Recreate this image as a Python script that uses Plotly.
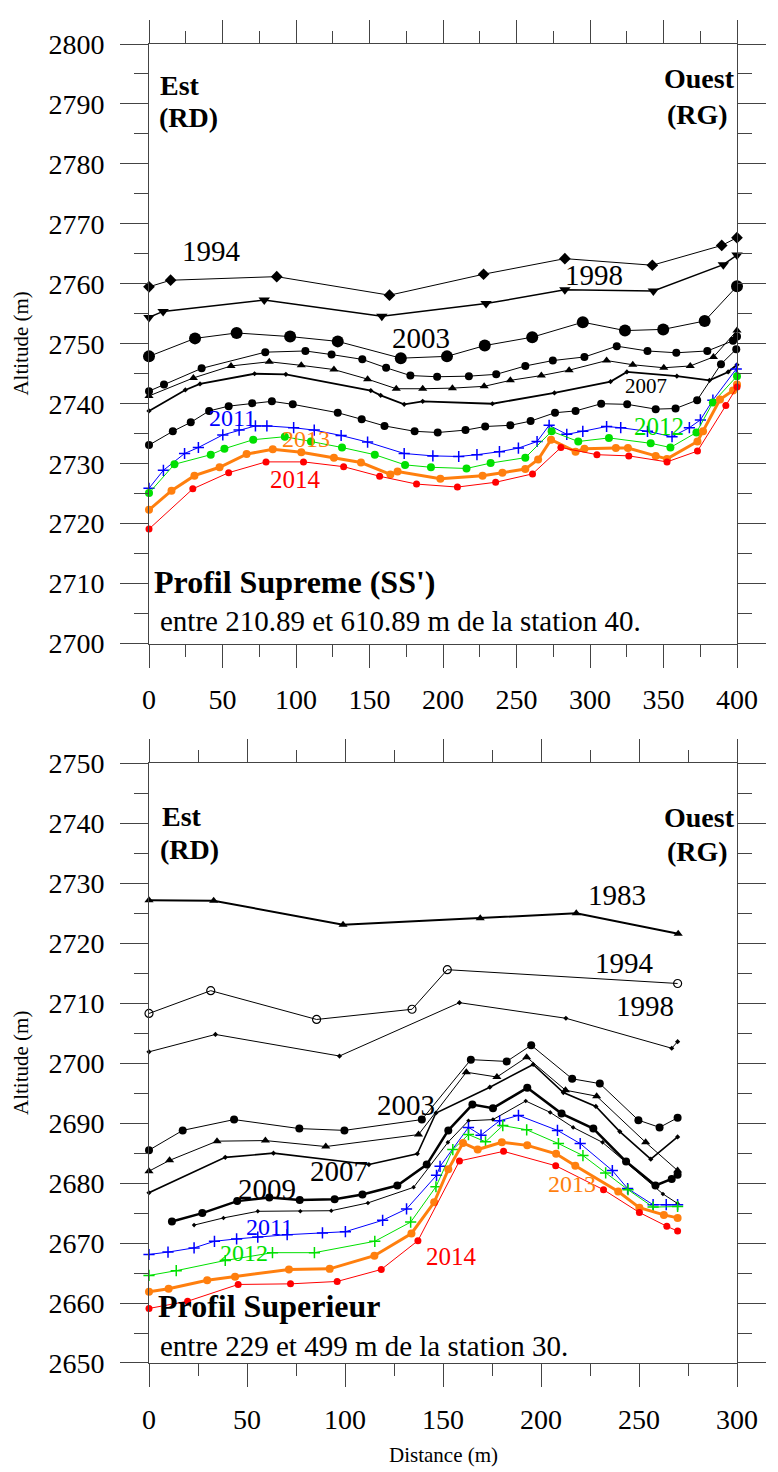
import plotly.graph_objects as go

# ---------------- Top panel : Profil Supreme (SS') ----------------
t1994_d = [0, 14.7, 86.9, 163.6, 227.6, 282.9, 342.4, 389.6, 400]
t1994_z = [2759.5, 2760.6, 2761.2, 2758.1, 2761.6, 2764.2, 2763.1, 2766.4, 2767.7]

t1998_d = [0, 9.6, 78.4, 158.4, 229.3, 282.9, 343.1, 390.7, 400]
t1998_z = [2754.4, 2755.4, 2757.3, 2754.6, 2756.7, 2759.0, 2758.8, 2763.2, 2764.8]

t2003_d = [0, 31.3, 59.6, 96, 128.4, 171.3, 202.7, 228.4, 260.7, 295.1, 323.8, 349.8, 378, 400]
t2003_z = [2747.9, 2750.9, 2751.8, 2751.2, 2750.4, 2747.6, 2747.9, 2749.7, 2751.1, 2753.6, 2752.2, 2752.4, 2753.8, 2759.6]

ta_d = [0, 10.2, 35.8, 79.1, 106.4, 124.2, 145.1, 161.3, 177.8, 196, 217.6, 236.2, 256, 274.7, 296.2, 318.2, 339.1, 358.7, 379.8, 397.3, 400]
ta_z = [2742.1, 2743.2, 2745.9, 2748.6, 2748.8, 2748.2, 2747.4, 2746.0, 2744.7, 2744.5, 2744.6, 2744.9, 2746.3, 2747.2, 2747.8, 2749.6, 2748.8, 2748.5, 2748.8, 2750.5, 2751.2]

tb_d = [0, 30.2, 55.8, 81.8, 103.6, 125.8, 148.7, 168.2, 186.2, 206.4, 228, 245.8, 266.9, 285.8, 311.3, 329.1, 350.2, 368.2, 384, 400]
tb_z = [2741.3, 2744.3, 2746.3, 2747.0, 2746.4, 2745.7, 2744.1, 2742.5, 2742.5, 2742.6, 2742.9, 2743.9, 2744.7, 2745.6, 2747.2, 2746.5, 2746.0, 2746.3, 2747.8, 2752.2]

t2007_d = [0, 24.7, 34.7, 71.8, 93.1, 150.9, 157.6, 173.6, 186.2, 233.6, 275.8, 314, 325.1, 359.1, 381.3, 394, 400]
t2007_z = [2738.8, 2742.3, 2743.3, 2745.0, 2744.9, 2742.2, 2741.4, 2739.9, 2740.4, 2740.0, 2741.8, 2743.7, 2745.3, 2744.6, 2743.9, 2745.3, 2746.5]

tc_d = [0, 16.2, 28.4, 40.9, 54.2, 70.2, 83.6, 97.8, 128.4, 144.7, 160.2, 180.7, 196.4, 215.3, 228.7, 245.8, 259.6, 276.2, 290.2, 307.6, 325.3, 344.7, 358.2, 372.9, 389.1, 399.5]
tc_z = [2733.1, 2735.4, 2736.9, 2738.8, 2739.6, 2740.1, 2740.4, 2739.9, 2738.5, 2737.4, 2736.3, 2735.4, 2735.2, 2735.6, 2736.2, 2736.4, 2737.1, 2738.5, 2738.8, 2740.0, 2739.9, 2739.1, 2739.2, 2740.6, 2746.6, 2749.1]

t2011_d = [0, 9.8, 24.2, 33.6, 50.2, 61.3, 72.4, 80.2, 98.4, 112.4, 130.7, 148.7, 173.6, 193.1, 210.7, 223.1, 238.4, 251.3, 264, 272.2, 284.2, 295.1, 311.3, 320.9, 339.1, 355.8, 367.6, 375.1, 383.6, 399.5]
t2011_z = [2725.9, 2728.9, 2731.7, 2732.7, 2734.8, 2735.6, 2736.3, 2736.3, 2736.0, 2735.6, 2734.7, 2733.6, 2731.7, 2731.3, 2731.2, 2731.5, 2732.0, 2732.6, 2733.7, 2736.4, 2734.9, 2735.4, 2736.2, 2736.0, 2735.4, 2734.5, 2736.0, 2737.3, 2740.6, 2745.8]

t2012_d = [0, 17.3, 42, 51.3, 70.9, 92.4, 110.2, 131.3, 153.6, 174.2, 191.8, 216, 232.4, 256, 273.9, 292, 312.9, 341.3, 354.7, 372.4, 383.6, 400]
t2012_z = [2725.1, 2729.9, 2731.5, 2732.5, 2734.0, 2734.5, 2733.7, 2732.7, 2731.5, 2729.8, 2729.4, 2729.2, 2730.1, 2731.0, 2735.4, 2733.7, 2734.3, 2733.4, 2732.7, 2735.2, 2740.2, 2744.6]

t2013_d = [0, 15.3, 30.9, 48, 66.4, 84.2, 103.6, 125.8, 144.2, 164.2, 169.1, 198.2, 226.9, 240.4, 256, 264.7, 273.5, 290.2, 296.2, 317.6, 325.8, 344.7, 352.4, 373.1, 376.9, 388.4, 397.3, 400]
t2013_z = [2722.3, 2725.5, 2728.0, 2729.4, 2731.6, 2732.4, 2731.9, 2731.0, 2730.2, 2728.2, 2728.7, 2727.5, 2728.0, 2728.5, 2729.1, 2730.7, 2734.0, 2732.0, 2732.5, 2732.6, 2732.6, 2731.3, 2730.8, 2733.7, 2735.4, 2740.7, 2742.2, 2743.2]

t2014_d = [0, 29.8, 54.2, 79.6, 105.1, 132.4, 156.9, 182, 209.8, 235.8, 260.9, 280.2, 304.7, 326.4, 352.4, 373.1, 392.4, 400]
t2014_z = [2719.1, 2725.8, 2728.5, 2730.3, 2730.3, 2729.5, 2727.9, 2726.6, 2726.1, 2726.9, 2728.3, 2732.7, 2731.5, 2731.3, 2730.3, 2732.1, 2739.7, 2742.8]

# ---------------- Bottom panel : Profil Superieur ----------------
b1983_d = [0, 33, 99, 169, 218, 270]
b1983_z = [2727.2, 2727.1, 2723.1, 2724.2, 2725.0, 2721.6]

b1994_d = [0, 31.5, 85.5, 134.2, 152.2, 269.7]
b1994_z = [2708.3, 2712.1, 2707.3, 2709.0, 2715.6, 2713.3]

b1998_d = [0, 33.9, 97.2, 158.4, 212.7, 266.7, 269.7]
b1998_z = [2701.9, 2704.8, 2701.2, 2710.1, 2707.5, 2702.5, 2703.6]

b2003_d = [0, 17.2, 43.4, 76.7, 99.7, 139.2, 164.2, 182.5, 195, 215.9, 230, 249.7, 260.5, 269.7]
b2003_z = [2685.5, 2688.8, 2690.6, 2689.1, 2688.8, 2690.6, 2700.6, 2700.3, 2703.0, 2697.4, 2696.6, 2690.5, 2689.3, 2690.9]

ba_d = [0, 10.5, 34.7, 59.4, 90.2, 137.5, 161.9, 177.5, 192.7, 212.5, 228.4, 253.4, 269.7]
ba_z = [2682.0, 2683.8, 2687.0, 2687.1, 2686.1, 2688.1, 2698.5, 2697.7, 2701.0, 2695.5, 2694.5, 2686.8, 2682.1]

b2007_d = [0, 38.9, 63.5, 112.2, 136.9, 146.4, 173.9, 196, 211.4, 228, 240.2, 256, 269.7]
b2007_z = [2678.4, 2684.3, 2685.0, 2683.1, 2684.9, 2691.7, 2696.0, 2699.8, 2695.1, 2692.8, 2688.6, 2684.0, 2687.7]

b2009_d = [11.7, 27.2, 45, 61.4, 76.9, 94.7, 108.9, 126.7, 141.7, 152.7, 165, 175.5, 193, 210.5, 226.7, 243.4, 258.4, 266.7, 269.7]
b2009_z = [2673.6, 2675.0, 2677.0, 2677.6, 2677.2, 2677.3, 2678.1, 2679.6, 2683.1, 2688.8, 2693.1, 2692.5, 2695.9, 2691.6, 2689.1, 2683.6, 2679.6, 2680.7, 2681.4]

bb_d = [23, 38, 55.5, 77.2, 93, 111.7, 135, 152.5, 163, 175.5, 192.2, 204.7, 216.4, 231.4, 262.2, 269.7]
bb_z = [2673.0, 2674.2, 2675.3, 2675.3, 2675.4, 2676.7, 2679.3, 2686.8, 2690.4, 2690.6, 2693.7, 2691.8, 2689.3, 2686.8, 2678.2, 2676.6]

b2011_d = [0, 9.7, 23, 33.4, 44.7, 55.5, 70.5, 88.5, 100.2, 119.2, 131.4, 146.7, 148.5, 163, 169.4, 178.9, 188.5, 208.4, 220, 236.4, 244.2, 257.2, 263.9, 269.7]
b2011_z = [2668.1, 2668.5, 2669.2, 2670.3, 2670.7, 2671.0, 2671.4, 2671.7, 2671.9, 2673.8, 2675.7, 2681.3, 2682.8, 2689.3, 2688.0, 2690.4, 2691.3, 2688.8, 2686.6, 2682.1, 2679.1, 2676.4, 2676.4, 2676.4]

b2012_d = [0, 13.9, 38.9, 63, 84.4, 115.2, 133.5, 146.4, 155, 163, 171.7, 180.5, 192.7, 208.9, 221.4, 233, 244.4, 257.2, 269.7]
b2012_z = [2664.6, 2665.4, 2667.1, 2668.4, 2668.4, 2670.3, 2673.5, 2679.4, 2685.6, 2688.1, 2686.9, 2689.6, 2688.9, 2686.6, 2684.6, 2681.7, 2678.9, 2676.0, 2676.1]

b2013_d = [0, 10, 29.7, 43.9, 71.4, 92.2, 115, 133.9, 145.5, 152.7, 160.2, 167.7, 180, 193, 207.7, 217.5, 239.4, 250.2, 262.7, 269.7]
b2013_z = [2661.9, 2662.4, 2663.8, 2664.4, 2665.6, 2665.7, 2667.9, 2671.6, 2676.8, 2682.3, 2686.7, 2685.6, 2686.8, 2686.3, 2684.9, 2682.9, 2678.6, 2675.9, 2674.7, 2674.2]

b2014_d = [0, 19.7, 45.5, 72.2, 96, 118.5, 137.2, 158.4, 180.9, 207.5, 231.9, 250.2, 264.2, 269.7]
b2014_z = [2659.1, 2660.3, 2663.1, 2663.2, 2663.6, 2665.6, 2670.4, 2683.7, 2685.3, 2682.9, 2678.9, 2675.1, 2672.8, 2672.0]

x_ticks_top = [0, 50, 100, 150, 200, 250, 300, 350, 400]
x_ticks_bot = [0, 50, 100, 150, 200, 250, 300]
y_ticks_top = list(range(2700, 2801, 10))
y_ticks_bot = list(range(2650, 2751, 10))

SERIF = "Liberation Serif"
BLACK = "black"
BLUE = "#0000ff"
GREEN = "#00e000"
ORANGE = "#ff7f0e"
RED = "#ff0000"

fig = go.Figure()


def add(xs, ys, axis, color, symbol, msize, lwidth, name, mline=None):
    marker = dict(symbol=symbol, size=msize, color=color)
    if mline is not None:
        marker["line"] = mline
    xa, ya = ("x", "y") if axis == 1 else ("x2", "y2")
    fig.add_trace(go.Scatter(x=xs, y=ys, mode="lines+markers", name=name,
                             xaxis=xa, yaxis=ya, cliponaxis=False,
                             line=dict(color=color, width=lwidth),
                             marker=marker, showlegend=False))


# top panel traces
add(t1994_d, t1994_z, 1, BLACK, "diamond", 9, 1, "1994")
add(t1998_d, t1998_z, 1, BLACK, "triangle-down", 10, 1.5, "1998")
add(t2003_d, t2003_z, 1, BLACK, "circle", 12, 1, "2003")
add(ta_d, ta_z, 1, BLACK, "circle", 8, 1, "serie a")
add(tb_d, tb_z, 1, BLACK, "triangle-up", 8, 1, "serie b")
add(t2007_d, t2007_z, 1, BLACK, "diamond", 4, 1.8, "2007")
add(tc_d, tc_z, 1, BLACK, "circle", 8, 1, "serie c")
add(t2011_d, t2011_z, 1, BLUE, "cross-thin", 8, 1, "2011", mline=dict(color=BLUE, width=1.5))
add(t2012_d, t2012_z, 1, GREEN, "circle", 8, 1, "2012")
add(t2013_d, t2013_z, 1, ORANGE, "circle", 8, 3, "2013")
add(t2014_d, t2014_z, 1, RED, "circle", 7, 1, "2014")

# bottom panel traces
add(b1983_d, b1983_z, 2, BLACK, "triangle-up", 8, 2, "1983")
add(b1994_d, b1994_z, 2, BLACK, "circle-open", 8, 1, "1994", mline=dict(color=BLACK, width=1.2))
add(b1998_d, b1998_z, 2, BLACK, "diamond", 4, 1, "1998")
add(b2003_d, b2003_z, 2, BLACK, "circle", 8, 1, "2003")
add(ba_d, ba_z, 2, BLACK, "triangle-up", 8, 1, "serie a")
add(b2007_d, b2007_z, 2, BLACK, "diamond", 4, 1.6, "2007")
add(b2009_d, b2009_z, 2, BLACK, "circle", 8, 2.5, "2009")
add(bb_d, bb_z, 2, BLACK, "diamond", 3.5, 1, "serie b")
add(b2011_d, b2011_z, 2, BLUE, "cross-thin", 8, 1, "2011", mline=dict(color=BLUE, width=1.5))
add(b2012_d, b2012_z, 2, GREEN, "cross-thin", 8, 1, "2012", mline=dict(color=GREEN, width=1.5))
add(b2013_d, b2013_z, 2, ORANGE, "circle", 8, 3, "2013")
add(b2014_d, b2014_z, 2, RED, "circle", 7, 1, "2014")

AXC = "#444444"
tickfont = dict(family=SERIF, size=28, color="black")


def xaxis(rng, ticks, anchor, labels=True):
    return dict(range=rng, tickvals=ticks, ticks="outside", ticklen=23, tickwidth=1,
                tickcolor=AXC, showline=True, linecolor=AXC, linewidth=1,
                mirror="allticks", showgrid=False, zeroline=False, anchor=anchor,
                showticklabels=labels, tickfont=tickfont, ticklabelstandoff=8,
                minor=dict(dtick=25, ticks="outside", ticklen=12, tickcolor=AXC, tickwidth=1))


def yaxis(rng, ticks, domain, anchor):
    return dict(range=rng, tickvals=ticks, ticks="outside", ticklen=28, tickwidth=1,
                tickcolor=AXC, showline=True, linecolor=AXC, linewidth=1,
                mirror="allticks", showgrid=False, zeroline=False, domain=domain,
                anchor=anchor, tickfont=tickfont, ticklabelstandoff=10,
                minor=dict(dtick=5, ticks="outside", ticklen=14, tickcolor=AXC, tickwidth=1))


# the page adds an 8 px body margin, so the figure is 8 px smaller each way
fig.update_layout(
    width=770, height=1464,
    margin=dict(l=141, r=30, t=35, b=109),
    paper_bgcolor="white", plot_bgcolor="white",
    font=dict(family=SERIF, color="black"),
    xaxis=xaxis([0, 400], x_ticks_top, "y"),
    yaxis=yaxis([2700, 2800], y_ticks_top, [0.54545, 1.0], "x"),
    xaxis2=xaxis([0, 300], x_ticks_bot, "y2"),
    yaxis2=yaxis([2650, 2750], y_ticks_bot, [0.0, 0.45455], "x2"),
)

ann = []


def label(text, x, y, xref, yref, color="black", size=29, bold=False, xanchor="center"):
    t = "<b>%s</b>" % text if bold else text
    ann.append(dict(text=t, x=x, y=y, xref=xref, yref=yref, showarrow=False,
                    xanchor=xanchor, yanchor="middle",
                    font=dict(family=SERIF, size=size, color=color)))


# top panel labels
label("1994", 42.7, 2765.4, "x", "y")
label("1998", 303, 2761.4, "x", "y")
label("2003", 185, 2751.0, "x", "y")
label("2007", 338, 2743.0, "x", "y", size=21)
label("2011", 57, 2737.6, "x", "y", color=BLUE, size=24)
label("2013", 107, 2734.1, "x", "y", color=ORANGE, size=24)
label("2014", 99.5, 2727.4, "x", "y", color=RED, size=25)
label("2012", 347, 2736.2, "x", "y", color=GREEN, size=25)
label("Est", 0.015, 0.93, "x domain", "y domain", size=28, bold=True, xanchor="left")
label("(RD)", 0.013, 0.877, "x domain", "y domain", size=28, bold=True, xanchor="left")
label("Ouest", 1.0, 0.942, "x domain", "y domain", size=28, bold=True, xanchor="right")
label("(RG)", 0.988, 0.883, "x domain", "y domain", size=28, bold=True, xanchor="right")
label("Profil Supreme (SS')", 0.005, 0.102, "x domain", "y domain", size=32, bold=True, xanchor="left")
label("entre 210.89 et 610.89 m de la station 40.", 0.015, 0.038, "x domain", "y domain", size=29, xanchor="left")

# bottom panel labels
label("1983", 238.8, 2728.1, "x2", "y2")
label("1994", 242.5, 2716.7, "x2", "y2")
label("1998", 253, 2709.5, "x2", "y2")
label("2003", 131, 2693.0, "x2", "y2")
label("2007", 97, 2682.1, "x2", "y2")
label("2009", 60, 2679.1, "x2", "y2")
label("2011", 61.5, 2672.6, "x2", "y2", color=BLUE, size=24)
label("2012", 48.5, 2668.3, "x2", "y2", color=GREEN, size=24)
label("2013", 216, 2679.8, "x2", "y2", color=ORANGE, size=24)
label("2014", 154.5, 2667.8, "x2", "y2", color=RED, size=25)
label("Est", 0.018, 0.912, "x2 domain", "y2 domain", size=28, bold=True, xanchor="left")
label("(RD)", 0.015, 0.857, "x2 domain", "y2 domain", size=28, bold=True, xanchor="left")
label("Ouest", 1.0, 0.91, "x2 domain", "y2 domain", size=28, bold=True, xanchor="right")
label("(RG)", 0.988, 0.853, "x2 domain", "y2 domain", size=28, bold=True, xanchor="right")
label("Profil Superieur", 0.012, 0.095, "x2 domain", "y2 domain", size=32, bold=True, xanchor="left")
label("entre 229 et 499 m de la station 30.", 0.015, 0.028, "x2 domain", "y2 domain", size=29, xanchor="left")

# axis titles
ann.append(dict(text="Altitude (m)", x=-0.218, y=0.7727, xref="paper", yref="paper",
                xanchor="center", yanchor="middle",
                showarrow=False, textangle=-90, font=dict(family=SERIF, size=21)))
ann.append(dict(text="Altitude (m)", x=-0.218, y=0.2273, xref="paper", yref="paper",
                xanchor="center", yanchor="middle",
                showarrow=False, textangle=-90, font=dict(family=SERIF, size=21)))
ann.append(dict(text="Distance (m)", x=0.5, y=-0.0697, xref="paper", yref="paper",
                xanchor="center", yanchor="middle",
                showarrow=False, font=dict(family=SERIF, size=21)))

fig.update_layout(annotations=ann)
fig.write_html("out.html")
